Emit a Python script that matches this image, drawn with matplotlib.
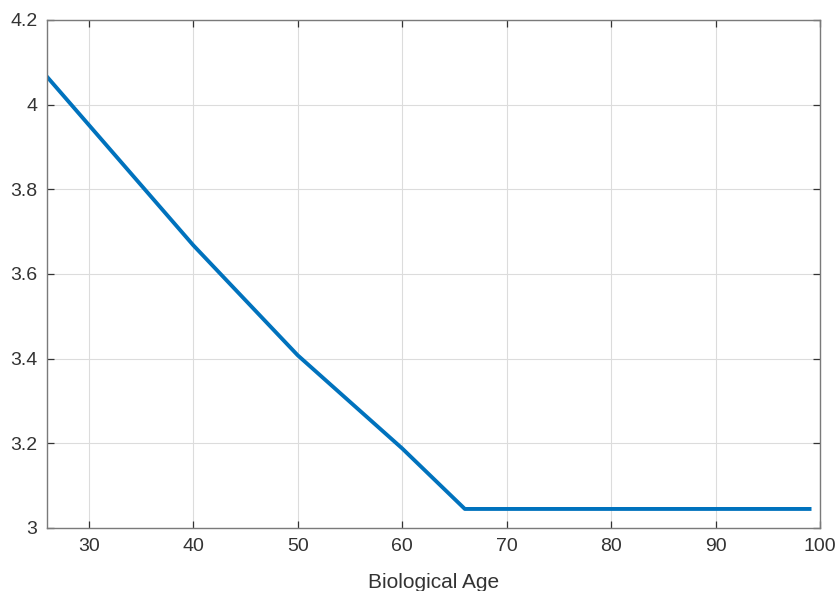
import numpy as np
import matplotlib.pyplot as plt

plt.rcParams['font.family'] = ['Liberation Sans', 'DejaVu Sans']

# curve (drops until about 66, then flat)
age = [26, 40, 50, 60, 66, 99]
value = [4.066, 3.668, 3.408, 3.188, 3.045, 3.045]

xticks = [30, 40, 50, 60, 70, 80, 90, 100]
yticks = [3, 3.2, 3.4, 3.6, 3.8, 4, 4.2]
yticklabels = ['3', '3.2', '3.4', '3.6', '3.8', '4', '4.2']

fig = plt.figure(figsize=(8.39, 5.91), dpi=100)
ax = fig.add_axes([47 / 839, 1 - 528 / 591, (820 - 47) / 839, (528 - 20) / 591])

ax.plot(age, value, color='#0072BD', linewidth=2.8)

ax.set_xlim(26, 100)
ax.set_ylim(3, 4.2)
ax.set_xticks(xticks)
ax.set_yticks(yticks)
ax.set_yticklabels(yticklabels)
ax.grid(True, color='#dcdcdc', linewidth=0.8)
ax.set_axisbelow(True)

for s in ax.spines.values():
    s.set_color('#7a7a7a')
    s.set_linewidth(1.0)
ax.tick_params(direction='in', length=5, width=0.9, color='#333333',
               labelcolor='#333333', labelsize=14, top=True, right=True, pad=7)
ax.set_xlabel('Biological Age', fontsize=15, color='#333333', labelpad=13)

fig.savefig('out.png', dpi=100)
